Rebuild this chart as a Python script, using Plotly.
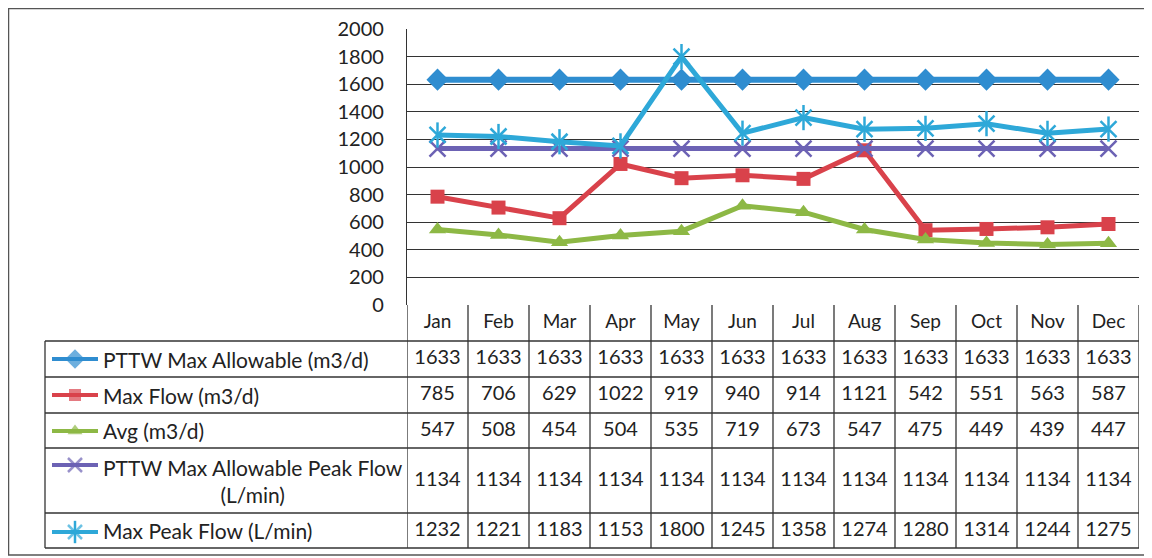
import plotly.graph_objects as go

# ---------------- data ----------------
months = ["Jan", "Feb", "Mar", "Apr", "May", "Jun", "Jul", "Aug", "Sep", "Oct", "Nov", "Dec"]
pttw_max_allowable = [1633, 1633, 1633, 1633, 1633, 1633, 1633, 1633, 1633, 1633, 1633, 1633]
max_flow = [785, 706, 629, 1022, 919, 940, 914, 1121, 542, 551, 563, 587]
avg_flow = [547, 508, 454, 504, 535, 719, 673, 547, 475, 449, 439, 447]
pttw_peak_allowable = [1134, 1134, 1134, 1134, 1134, 1134, 1134, 1134, 1134, 1134, 1134, 1134]
max_peak_flow = [1232, 1221, 1183, 1153, 1800, 1245, 1358, 1274, 1280, 1314, 1244, 1275]
y_ticks = [0, 200, 400, 600, 800, 1000, 1200, 1400, 1600, 1800, 2000]
series_names = [
    "PTTW Max Allowable (m3/d)",
    "Max Flow (m3/d)",
    "Avg (m3/d)",
    "PTTW Max Allowable Peak Flow<br>(L/min)",
    "Max Peak Flow (L/min)",
]

# ---------------- styling ----------------
W, H = 1152, 558
OX, OY = 8, 8               # page offset of the figure (body margin)
FONT = "Lato"
TXT = "#222222"
GRID = "#333333"
colors = ["#2F8DD0", "#D9424B", "#8DB845", "#6C62B4", "#2EA8D8"]
symbols = ["diamond", "square", "triangle-up", "x-thin-open", "x-thin-open"]
msizes = [17, 14, 15, 16, 16]
lwidths = [6, 5, 5, 5, 5]
series = [pttw_max_allowable, max_flow, avg_flow, pttw_peak_allowable, max_peak_flow]

# pixel geometry (page pixels)
PL, PR = 407, 1139          # plot area left / right
PT, PB = 29, 305            # plot area top / bottom (0 line)
TB = 548                    # table bottom
TL = 45                     # table legend column left
row_lines = [341, 377, 413, 448, 513, 548]
row_centers = [323, 359, 395, 430.5, 480.5, 530.5]
key_centers = [359, 395, 431, 465, 532]


def fx(p):
    return (p - OX) / W


def fy(p):
    return 1 - (p - OY) / H


fig = go.Figure()

# main series
for i, (name, vals) in enumerate(zip(series_names, series)):
    open_sym = symbols[i].endswith("open")
    fig.add_trace(go.Scatter(
        x=months, y=vals, mode="lines+markers", name=name.replace("<br>", " "),
        line=dict(color=colors[i], width=lwidths[i]),
        marker=dict(symbol=symbols[i], size=msizes[i], color=colors[i],
                    line=dict(color=colors[i], width=2.5 if open_sym else 0)),
        xaxis="x", yaxis="y", showlegend=False, cliponaxis=False,
    ))
# vertical stroke that turns the last series' x into a star
fig.add_trace(go.Scatter(
    x=months, y=max_peak_flow, mode="markers",
    marker=dict(symbol="line-ns-open", size=msizes[4] + 2, color=colors[4],
                line=dict(color=colors[4], width=2.5)),
    xaxis="x", yaxis="y", showlegend=False, hoverinfo="skip", cliponaxis=False,
))

# table: month header and values
fig.add_trace(go.Scatter(
    x=months, y=[row_centers[0]] * 12, mode="text", text=months,
    textfont=dict(family=FONT, size=19, color=TXT),
    xaxis="x2", yaxis="y2", showlegend=False, hoverinfo="skip", cliponaxis=False,
))
for r, vals in enumerate(series):
    fig.add_trace(go.Scatter(
        x=months, y=[row_centers[r + 1]] * 12, mode="text", text=[str(v) for v in vals],
        textfont=dict(family=FONT, size=20, color=TXT),
        xaxis="x2", yaxis="y2", showlegend=False, hoverinfo="skip", cliponaxis=False,
    ))

# legend keys in the table's first column
for i in range(5):
    open_sym = symbols[i].endswith("open")
    yk = key_centers[i]
    fig.add_trace(go.Scatter(
        x=[52, 75, 98], y=[yk, yk, yk], mode="lines+markers",
        line=dict(color=colors[i], width=4),
        marker=dict(symbol=symbols[i], size=[0, msizes[i] - 2, 0], color=colors[i],
                    line=dict(color=colors[i], width=2.5 if open_sym else 0)),
        xaxis="x3", yaxis="y3", showlegend=False, hoverinfo="skip", cliponaxis=False,
    ))
fig.add_trace(go.Scatter(
    x=[75], y=[key_centers[4]], mode="markers",
    marker=dict(symbol="line-ns-open", size=msizes[4], color=colors[4],
                line=dict(color=colors[4], width=2.5)),
    xaxis="x3", yaxis="y3", showlegend=False, hoverinfo="skip", cliponaxis=False,
))

shapes = []
# outer border
shapes.append(dict(type="rect", xref="x3", yref="y3",
                   x0=OX + 0.5, x1=1146, y0=OY + 0.5, y1=555,
                   line=dict(color="#555555", width=1.5)))
# table horizontal lines
for yl in row_lines:
    shapes.append(dict(type="line", xref="x3", yref="y3", x0=TL, x1=PR, y0=yl, y1=yl,
                       line=dict(color=GRID, width=1.3)))
# table left border
shapes.append(dict(type="line", xref="x3", yref="y3", x0=TL, x1=TL, y0=row_lines[0], y1=TB,
                   line=dict(color=GRID, width=1.3)))
# month column boundaries
for k in range(13):
    shapes.append(dict(type="line", xref="x2", yref="y2", x0=k - 0.5, x1=k - 0.5, y0=PB, y1=TB,
                       line=dict(color=GRID, width=1.3)))

annotations = []
for i, name in enumerate(series_names):
    annotations.append(dict(
        xref="x3", yref="y3", x=101, y=row_centers[i + 1], text=name,
        xanchor="left", yanchor="middle", align="center", showarrow=False,
        font=dict(family=FONT, size=21, color=TXT),
    ))

fig.update_layout(
    width=W, height=H, autosize=False,
    margin=dict(l=0, r=0, t=0, b=0, pad=0, autoexpand=False),
    paper_bgcolor="white", plot_bgcolor="rgba(0,0,0,0)",
    xaxis=dict(type="category", categoryorder="array", categoryarray=months,
               range=[-0.5, 11.5], domain=[fx(PL), fx(PR)], anchor="y", automargin=False,
               showticklabels=False, showgrid=False, zeroline=False, showline=False, ticks=""),
    yaxis=dict(range=[0, 2000], domain=[fy(PB), fy(PT)], anchor="x", automargin=False,
               tickvals=y_ticks, showgrid=True, gridcolor=GRID, gridwidth=1.2,
               zeroline=False, showline=True, linecolor=GRID, linewidth=1.3, ticks="",
               ticklabelstandoff=18,
               tickfont=dict(family=FONT, size=20, color=TXT)),
    xaxis2=dict(matches="x", type="category", categoryorder="array", categoryarray=months,
                domain=[fx(PL), fx(PR)], anchor="y2", visible=False, automargin=False),
    yaxis2=dict(range=[TB, PB], domain=[fy(TB), fy(PB)], anchor="x2", visible=False,
                automargin=False),
    xaxis3=dict(range=[OX, W + OX], domain=[0, 1], anchor="y3", visible=False, automargin=False),
    yaxis3=dict(range=[H + OY, OY], domain=[0, 1], anchor="x3", visible=False, automargin=False),
    shapes=shapes,
    annotations=annotations,
    showlegend=False,
)

fig.write_html("out.html")
